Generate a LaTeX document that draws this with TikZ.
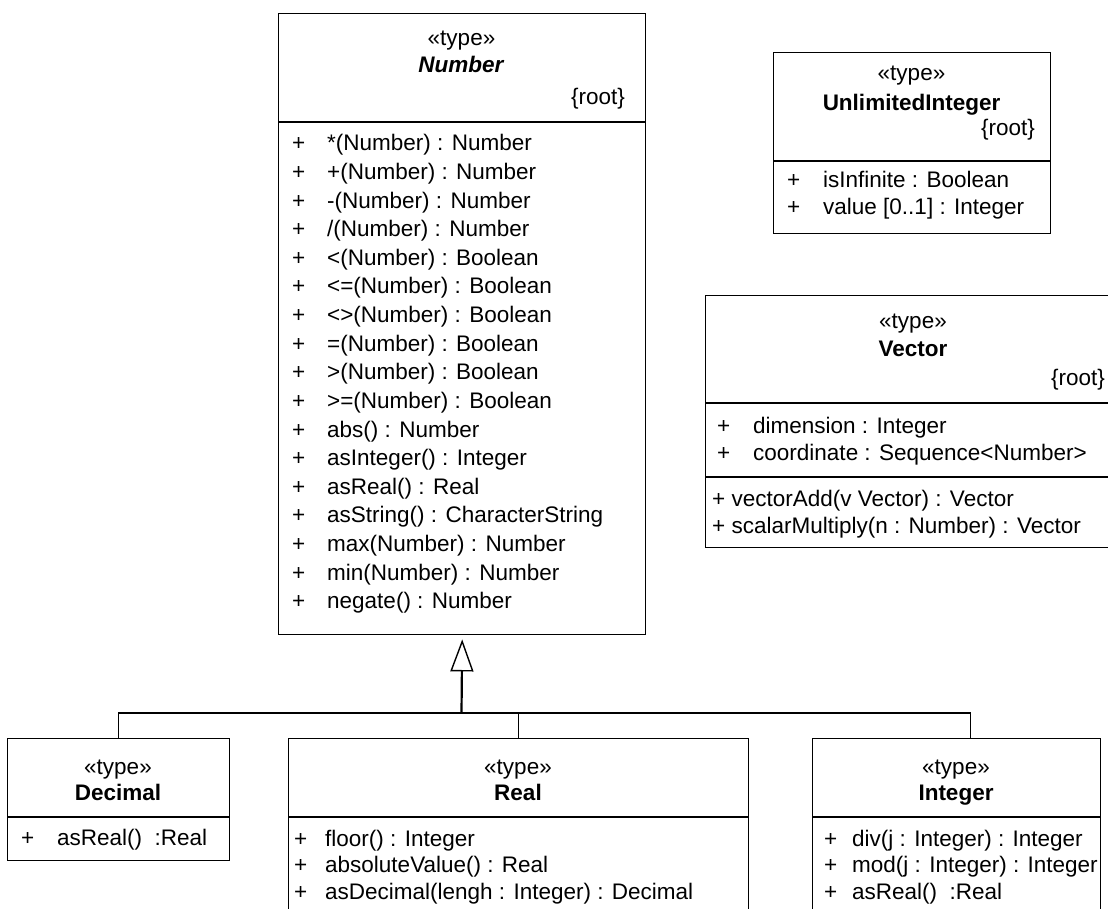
\documentclass[tikz,border=0pt]{standalone}
\usepackage{fontspec}
\setmainfont{Liberation Sans}
\usetikzlibrary{arrows.meta}
\begin{document}
\begin{tikzpicture}[x=1pt,y=-1pt,
  classbox/.style={draw,line width=1.4pt,rectangle,inner sep=0pt,anchor=north west},
  sepline/.style={line width=1.4pt},
  txt/.style={inner sep=0pt,font=\fontsize{22.5}{27}\selectfont,text height=16pt,text depth=0pt},
  lefttxt/.style={txt,anchor=west},
  midtxt/.style={txt,anchor=center},
  righttxt/.style={txt,anchor=east},
  conn/.style={line width=1.5pt},
  trunk/.style={line width=2.2pt,-{Triangle[open,length=32pt,width=23pt,line width=1.4pt]}}]
\useasboundingbox (0,0) rectangle (1108,909);
\clip (0,0) rectangle (1108,909);

% ---------- class frames ----------
\node[classbox,minimum width=367pt,minimum height=621pt] (number) at (278,13) {};
\node[classbox,minimum width=277pt,minimum height=181pt] (unlim) at (773,52) {};
\node[classbox,minimum width=416pt,minimum height=252pt] (vector) at (705,295) {};
\node[classbox,minimum width=222pt,minimum height=122pt] (decimal) at (7,738) {};
\node[classbox,minimum width=460pt,minimum height=260pt] (real) at (288,738) {};
\node[classbox,minimum width=288pt,minimum height=260pt] (integer) at (812,738) {};

% ---------- compartment separators ----------
\draw[sepline] (278,122) -- (645,122);
\draw[sepline] (773,161) -- (1050,161);
\draw[sepline] (705,403) -- (1121,403);
\draw[sepline] (705,477) -- (1121,477);
\draw[sepline] (7,817) -- (229,817);
\draw[sepline] (288,817) -- (748,817);
\draw[sepline] (812,817) -- (1100,817);

% ---------- Number ----------
\node[midtxt] (num-st) at (461.5,38) {«type»};
\node[midtxt] (num-nm) at (461.5,65) {\textbf{\textit{Number}}};
\node[righttxt] (num-rt) at (625,97) {\{root\}};
\foreach \op [count=\i] in {{*(Number) : Number},{+(Number) : Number},{-(Number) : Number},
  {/(Number) : Number},{<(Number) : Boolean},{<=(Number) : Boolean},{<>(Number) : Boolean},
  {=(Number) : Boolean},{>(Number) : Boolean},{>=(Number) : Boolean},{abs() : Number},
  {asInteger() : Integer},{asReal() : Real},{asString() : CharacterString},
  {max(Number) : Number},{min(Number) : Number},{negate() : Number}}{
  \node[lefttxt] (num-p\i) at (292,{143+28.6*(\i-1)}) {+};
  \node[lefttxt] (num-o\i) at (327,{143+28.6*(\i-1)}) {\op};
}

% ---------- UnlimitedInteger ----------
\node[midtxt] (uli-st) at (911.5,73) {«type»};
\node[midtxt] (uli-nm) at (911.5,103) {\textbf{UnlimitedInteger}};
\node[righttxt] (uli-rt) at (1035,128) {\{root\}};
\node[lefttxt] (uli-p1) at (787,180) {+};
\node[lefttxt] (uli-a1) at (823,180) {isInfinite : Boolean};
\node[lefttxt] (uli-p2) at (787,207) {+};
\node[lefttxt] (uli-a2) at (823,207) {value [0..1] : Integer};

% ---------- Vector ----------
\node[midtxt] (vec-st) at (913,320) {«type»};
\node[midtxt] (vec-nm) at (913,348) {\textbf{Vector}};
\node[righttxt] (vec-rt) at (1105,377) {\{root\}};
\node[lefttxt] (vec-p1) at (717,425) {+};
\node[lefttxt] (vec-a1) at (753,425) {dimension : Integer};
\node[lefttxt] (vec-p2) at (717,452) {+};
\node[lefttxt] (vec-a2) at (753,452) {coordinate : Sequence<Number>};
\node[lefttxt] (vec-m1) at (712,498) {+ vectorAdd(v Vector) : Vector};
\node[lefttxt] (vec-m2) at (712,525) {+ scalarMultiply(n : Number) : Vector};

% ---------- Decimal ----------
\node[midtxt] (dec-st) at (118,766) {«type»};
\node[midtxt] (dec-nm) at (118,792) {\textbf{Decimal}};
\node[lefttxt] (dec-p1) at (21,837) {+};
\node[lefttxt] (dec-o1) at (57,837) {asReal()\ \ :Real};

% ---------- Real ----------
\node[midtxt] (rea-st) at (518,766) {«type»};
\node[midtxt] (rea-nm) at (518,792) {\textbf{Real}};
\foreach \op [count=\i] in {{floor() : Integer},{absoluteValue() : Real},
  {asDecimal(lengh : Integer) : Decimal}}{
  \node[lefttxt] (rea-p\i) at (294,{838+26.5*(\i-1)}) {+};
  \node[lefttxt] (rea-o\i) at (325,{838+26.5*(\i-1)}) {\op};
}

% ---------- Integer ----------
\node[midtxt] (int-st) at (956,766) {«type»};
\node[midtxt] (int-nm) at (956,792) {\textbf{Integer}};
\foreach \op [count=\i] in {{div(j : Integer) : Integer},{mod(j : Integer) : Integer},
  {asReal()\ \ :Real}}{
  \node[lefttxt] (int-p\i) at (824,{838+26.5*(\i-1)}) {+};
  \node[lefttxt] (int-o\i) at (852,{838+26.5*(\i-1)}) {\op};
}

% ---------- generalization tree ----------
\coordinate (bus) at (461.5,713);
\draw[conn] (decimal.north) |- (bus) -| ([xshift=14pt]integer.north);
\draw[conn] (real.north) -- (real.north |- bus);
\draw[trunk] (bus) -- ([yshift=-4pt]number.south);
\end{tikzpicture}
\end{document}
